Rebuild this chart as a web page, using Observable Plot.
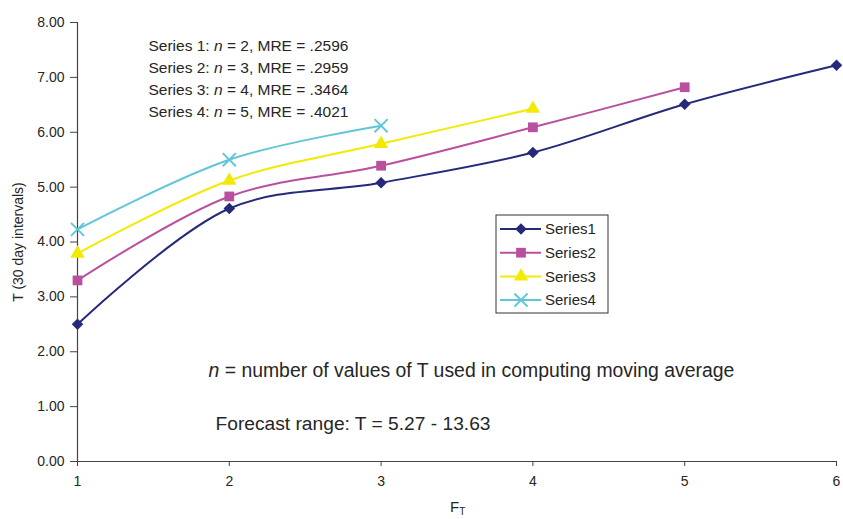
<!DOCTYPE html>
<html>
<head>
<meta charset="utf-8">
<script src="https://cdn.jsdelivr.net/npm/d3@7"></script>
<script src="https://cdn.jsdelivr.net/npm/@observablehq/plot@0.6"></script>
<style>
  html, body { margin: 0; padding: 0; background: #fff; }
  #chart { width: 843px; height: 519px; }
  svg text { font-family: "Liberation Sans", Arial, Helvetica, sans-serif; }
</style>
</head>
<body>
<div id="chart"></div>
<script>
// Moving-average forecasts of T against F_T for four window sizes n
const ft = [1, 2, 3, 4, 5, 6];
const series1 = [2.50, 4.61, 5.08, 5.63, 6.51, 7.22];
const series2 = [3.30, 4.83, 5.39, 6.09, 6.82];
const series3 = [3.79, 5.12, 5.79, 6.43];
const series4 = [4.23, 5.50, 6.12];
const seriesNames = ["Series1", "Series2", "Series3", "Series4"];
const seriesColors = ["#25297a", "#b9509f", "#f2ea00", "#62c6d6"];
const seriesSymbols = ["diamond2", "square", "triangle", "times"];
const yTicks = [0, 1, 2, 3, 4, 5, 6, 7, 8];
const xTicks = [1, 2, 3, 4, 5, 6];
const notes = [
  "Series 1: n = 2, MRE = .2596",
  "Series 2: n = 3, MRE = .2959",
  "Series 3: n = 4, MRE = .3464",
  "Series 4: n = 5, MRE = .4021"
];
const nNote = "n = number of values of T used in computing moving average";
const rangeNote = "Forecast range: T = 5.27 - 13.63";
const yTitle = "T (30 day intervals)";
const xTitle = ["F", "T"]; // F with subscript T

const allSeries = [series1, series2, series3, series4];
const rows = allSeries.flatMap((vals, i) =>
  vals.map((v, j) => ({series: seriesNames[i], ft: ft[j], t: v}))
);

const textColor = "#262626";
// marker radius per symbol (area-equivalent circle radius)
const markerR = {diamond2: 5.2, square: 5.5, triangle: 5.3, times: 6};

const plot = Plot.plot({
  width: 843,
  height: 519,
  marginLeft: 77,
  marginRight: 7,
  marginTop: 22,
  marginBottom: 58,
  style: {fontFamily: "Liberation Sans, Arial, sans-serif", color: textColor, background: "#fff"},
  x: {domain: [1, 6]},
  y: {domain: [0, 8]},
  color: {domain: seriesNames, range: seriesColors},
  symbol: {domain: seriesNames, range: seriesSymbols},
  marks: [
    Plot.axisY({ticks: yTicks, tickSize: 7, tickPadding: 6, tickFormat: d3.format(".2f"),
      fontSize: 14, label: null, stroke: "#444"}),
    Plot.axisX({ticks: xTicks, tickSize: 5, tickPadding: 10, tickFormat: d3.format("d"),
      fontSize: 14, label: null, stroke: "#444"}),
    Plot.text([yTitle], {frameAnchor: "left", dx: -59, rotate: -90, textAnchor: "middle",
      fontSize: 14, fill: textColor}),
    Plot.ruleX([1], {stroke: "#444", strokeWidth: 1.2}),
    Plot.ruleY([0], {stroke: "#444", strokeWidth: 1.2}),
    Plot.line(rows, {x: "ft", y: "t", z: "series", stroke: "series", curve: "catmull-rom", strokeWidth: 2}),
    ...seriesNames.map((name, i) => {
      const sym = seriesSymbols[i];
      const pts = rows.filter(d => d.series === name);
      return sym === "times"
        ? Plot.dot(pts, {x: "ft", y: "t", symbol: "series", stroke: "series", strokeWidth: 2, r: markerR[sym]})
        : Plot.dot(pts, {x: "ft", y: "t", symbol: "series", fill: "series", r: markerR[sym]});
    }),
    ...notes.map((t, i) => Plot.text([t], {frameAnchor: "top-left", dx: 71, dy: 24 + 22 * i,
      textAnchor: "start", lineAnchor: "middle", fontSize: 15.5, fill: textColor})),
    Plot.text([nNote], {frameAnchor: "top-left", dx: 131, dy: 348, textAnchor: "start",
      lineAnchor: "middle", fontSize: 19.4, fill: textColor}),
    Plot.text([rangeNote], {frameAnchor: "top-left", dx: 138, dy: 401, textAnchor: "start",
      lineAnchor: "middle", fontSize: 19.2, fill: textColor}),
    Plot.text([xTitle[0]], {frameAnchor: "bottom", dx: -7, dy: 50, textAnchor: "start", fontSize: 15,
      fill: textColor})
  ]
});

document.getElementById("chart").appendChild(plot);
const svg = d3.select(plot);

// italic "n" in the notes
const noteTexts = new Set([...notes, nNote]);
svg.selectAll("text").filter(function () { return noteTexts.has(this.textContent); }).each(function () {
  const el = d3.select(this);
  const s = el.text();
  const m = s.match(/(^|: )n(?= =)/);
  if (!m) return;
  const k = m.index + m[1].length;
  el.text(null);
  el.append("tspan").text(s.slice(0, k));
  el.append("tspan").attr("font-style", "italic").text("n");
  el.append("tspan").text(s.slice(k + 1));
});

// subscript T on the x-axis title
svg.selectAll("text").filter(function () { return this.textContent === xTitle[0]; }).each(function () {
  d3.select(this).append("tspan").attr("font-size", 10).attr("dy", "0.3em").text(xTitle[1]);
});

// legend box
const legend = svg.append("g").attr("transform", "translate(496,215)").attr("text-anchor", "start");
legend.append("rect").attr("width", 112).attr("height", 98)
  .attr("fill", "#fff").attr("stroke", "#333").attr("stroke-width", 1);
const symbolTypes = {diamond2: d3.symbolDiamond2, square: d3.symbolSquare, triangle: d3.symbolTriangle, times: d3.symbolTimes};
seriesNames.forEach((name, i) => {
  const y = 14 + i * 23.7;
  const g = legend.append("g").attr("transform", `translate(0,${y})`);
  g.append("line").attr("x1", 4).attr("x2", 45).attr("stroke", seriesColors[i]).attr("stroke-width", 2);
  const sym = seriesSymbols[i];
  const size = Math.PI * markerR[sym] * markerR[sym];
  const p = g.append("path").attr("transform", "translate(25,0)")
    .attr("d", d3.symbol(symbolTypes[sym], size)());
  if (sym === "times") p.attr("fill", "none").attr("stroke", seriesColors[i]).attr("stroke-width", 2);
  else p.attr("fill", seriesColors[i]);
  g.append("text").attr("x", 49).attr("dy", "0.35em").attr("font-size", 15)
    .attr("text-anchor", "start").attr("fill", textColor).text(name);
});
</script>
</body>
</html>
